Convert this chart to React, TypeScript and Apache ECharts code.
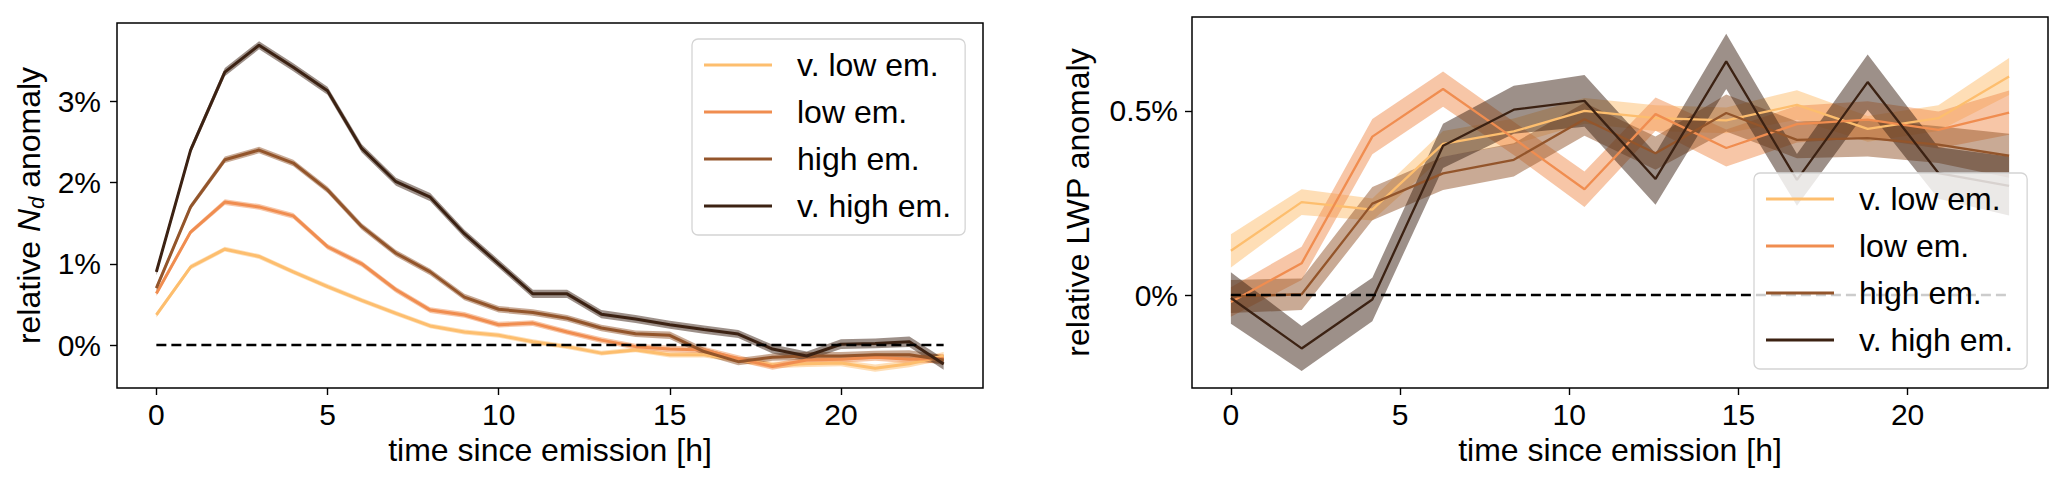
import React, { useEffect, useRef } from 'react';
import * as echarts from 'echarts';

// ---------- shared ----------
const seriesNames = ['v. low em.', 'low em.', 'high em.', 'v. high em.'];
const seriesColors = ['#FDBE6E', '#F08D50', '#93552B', '#3C2213'];
const xTicks = [0, 5, 10, 15, 20];

// ---------- left panel: relative N_d anomaly [%] ----------
const hoursLeft = [0, 1, 2, 3, 4, 5, 6, 7, 8, 9, 10, 11, 12, 13, 14, 15, 16, 17, 18, 19, 20, 21, 22, 23];
const ndVLow = [0.37, 0.96, 1.18, 1.09, 0.9, 0.72, 0.55, 0.39, 0.235, 0.16, 0.12, 0.04, -0.02, -0.1, -0.06, -0.12, -0.12, -0.18, -0.245, -0.23, -0.22, -0.285, -0.23, -0.135];
const ndLow = [0.635, 1.39, 1.76, 1.7, 1.59, 1.21, 1.0, 0.68, 0.43, 0.37, 0.25, 0.27, 0.16, 0.06, -0.02, -0.05, -0.06, -0.165, -0.265, -0.185, -0.175, -0.15, -0.175, -0.165];
const ndHigh = [0.7, 1.7, 2.28, 2.4, 2.24, 1.91, 1.46, 1.13, 0.9, 0.59, 0.44, 0.4, 0.33, 0.21, 0.14, 0.12, -0.08, -0.205, -0.15, -0.135, -0.135, -0.12, -0.12, -0.185];
const ndVHigh = [0.9, 2.4, 3.36, 3.69, 3.42, 3.13, 2.42, 2.01, 1.82, 1.37, 1.0, 0.63, 0.63, 0.38, 0.32, 0.25, 0.19, 0.135, -0.05, -0.135, 0.01, 0.02, 0.04, -0.235];
// half widths of the shaded confidence bands
const ndErrVLow = [0.03, 0.03, 0.03, 0.03, 0.03, 0.03, 0.03, 0.03, 0.03, 0.03, 0.03, 0.03, 0.03, 0.03, 0.03, 0.035, 0.035, 0.035, 0.04, 0.04, 0.04, 0.045, 0.045, 0.05];
const ndErrLow = [0.03, 0.03, 0.035, 0.035, 0.035, 0.035, 0.035, 0.035, 0.035, 0.035, 0.035, 0.035, 0.035, 0.035, 0.035, 0.04, 0.04, 0.04, 0.04, 0.045, 0.045, 0.045, 0.05, 0.055];
const ndErrHigh = [0.035, 0.035, 0.04, 0.04, 0.04, 0.04, 0.04, 0.04, 0.04, 0.04, 0.04, 0.04, 0.04, 0.04, 0.04, 0.045, 0.045, 0.045, 0.045, 0.05, 0.05, 0.05, 0.055, 0.06];
const ndErrVHigh = [0.04, 0.045, 0.05, 0.05, 0.05, 0.05, 0.05, 0.05, 0.05, 0.05, 0.05, 0.05, 0.05, 0.05, 0.05, 0.05, 0.05, 0.05, 0.055, 0.055, 0.06, 0.06, 0.065, 0.07];
const ndTicks = [0, 1, 2, 3];

// ---------- right panel: relative LWP anomaly [%] ----------
const hoursRight = [0, 2.09, 4.18, 6.27, 8.36, 10.45, 12.55, 14.64, 16.73, 18.82, 20.91, 23];
const lwpVLow = [0.12, 0.252, 0.232, 0.41, 0.444, 0.5, 0.48, 0.474, 0.516, 0.451, 0.48, 0.593];
const lwpLow = [-0.019, 0.086, 0.43, 0.559, 0.425, 0.287, 0.491, 0.399, 0.464, 0.476, 0.448, 0.495];
const lwpHigh = [-0.004, 0.002, 0.248, 0.33, 0.367, 0.477, 0.385, 0.494, 0.421, 0.426, 0.408, 0.378];
const lwpVHigh = [-0.008, -0.145, -0.012, 0.405, 0.503, 0.527, 0.315, 0.634, 0.3125, 0.578, 0.331, 0.296];
const lwpErrVLow = [0.045, 0.035, 0.03, 0.035, 0.035, 0.035, 0.035, 0.035, 0.04, 0.035, 0.035, 0.05];
const lwpErrLow = [0.04, 0.045, 0.048, 0.048, 0.045, 0.048, 0.045, 0.05, 0.05, 0.05, 0.05, 0.06];
const lwpErrHigh = [0.045, 0.043, 0.045, 0.045, 0.045, 0.045, 0.045, 0.05, 0.05, 0.05, 0.05, 0.06];
const lwpErrVHigh = [0.07, 0.061, 0.059, 0.06, 0.065, 0.07, 0.07, 0.075, 0.07, 0.075, 0.07, 0.08];
const lwpTicks = [0, 0.5];

const FONT = '"Liberation Sans", Arial, Helvetica, sans-serif';

function bandSeries(id: string, xs: number[], mean: number[], err: number[], color: string, axisIndex: number) {
  const lo = mean.map((m, i) => m - err[i]);
  const hi = mean.map((m, i) => m + err[i]);
  return {
    type: 'custom',
    name: id,
    xAxisIndex: axisIndex,
    yAxisIndex: axisIndex,
    silent: true,
    data: xs.map((x, i) => [x, lo[i], hi[i]]),
    encode: { x: 0, y: [1, 2] },
    itemStyle: { color },
    renderItem: (params: any, api: any) => {
      if (params.dataIndex !== 0) return null;
      const pts: number[][] = [];
      for (let i = 0; i < xs.length; i++) pts.push(api.coord([xs[i], hi[i]]));
      for (let i = xs.length - 1; i >= 0; i--) pts.push(api.coord([xs[i], lo[i]]));
      return { type: 'polygon', shape: { points: pts }, style: { fill: color, opacity: 0.5 } };
    },
  };
}

function lineSeries(name: string, xs: number[], ys: number[], color: string, axisIndex: number, width: number) {
  return {
    type: 'line',
    name,
    xAxisIndex: axisIndex,
    yAxisIndex: axisIndex,
    data: xs.map((x, i) => [x, ys[i]]),
    color,
    symbol: 'none',
    showSymbol: false,
    lineStyle: { color, width },
    silent: true,
  };
}

function zeroLine(axisIndex: number, xs: number[]) {
  return {
    type: 'line',
    name: 'zero' + axisIndex,
    xAxisIndex: axisIndex,
    yAxisIndex: axisIndex,
    data: [[xs[0], 0], [xs[xs.length - 1], 0]],
    symbol: 'none',
    lineStyle: { color: '#000', width: 2.6, type: [10, 5] },
    silent: true,
    z: 3,
  };
}

function xAxisCfg(gridIndex: number) {
  return {
    type: 'value',
    gridIndex,
    min: -1.15,
    max: 24.15,
    name: 'time since emission [h]',
    nameLocation: 'middle',
    nameGap: 46,
    nameTextStyle: { fontSize: 32, color: '#000', fontFamily: FONT },
    axisLine: { show: false, onZero: false },
    axisTick: { show: true, length: 7, lineStyle: { color: '#000', width: 1.4 }, customValues: xTicks },
    axisLabel: { show: true, fontSize: 30, color: '#000', fontFamily: FONT, margin: 11, customValues: xTicks },
    splitLine: { show: false },
  };
}

export default function App() {
  const ref = useRef<HTMLDivElement>(null);

  useEffect(() => {
    if (!ref.current) return;
    const chart = echarts.init(ref.current, undefined, { renderer: 'svg' });

    const leftMeans = [ndVLow, ndLow, ndHigh, ndVHigh];
    const leftErrs = [ndErrVLow, ndErrLow, ndErrHigh, ndErrVHigh];
    const rightMeans = [lwpVLow, lwpLow, lwpHigh, lwpVHigh];
    const rightErrs = [lwpErrVLow, lwpErrLow, lwpErrHigh, lwpErrVHigh];

    const series: any[] = [];
    for (let k = 0; k < 4; k++) {
      series.push(bandSeries('nd-band-' + k, hoursLeft, leftMeans[k], leftErrs[k], seriesColors[k], 0));
      series.push(lineSeries(seriesNames[k], hoursLeft, leftMeans[k], seriesColors[k], 0, 3));
    }
    series.push(zeroLine(0, hoursLeft));
    for (let k = 0; k < 4; k++) {
      series.push(bandSeries('lwp-band-' + k, hoursRight, rightMeans[k], rightErrs[k], seriesColors[k], 1));
      series.push(lineSeries(seriesNames[k], hoursRight, rightMeans[k], seriesColors[k], 1, 2.3));
    }
    series.push(zeroLine(1, hoursRight));

    const legendCommon = {
      orient: 'vertical',
      data: seriesNames,
      icon: 'rect',
      itemWidth: 68,
      itemHeight: 3,
      itemGap: 13,
      selectedMode: false,
      backgroundColor: 'rgba(255,255,255,0.8)',
      borderColor: '#d4d4d4',
      borderWidth: 1.3,
      borderRadius: 6,
      padding: [9, 14, 12, 12],
      textStyle: { fontSize: 32, color: '#000', fontFamily: FONT, lineHeight: 34, padding: [0, 0, 0, 20] },
    };

    const option: any = {
      animation: false,
      textStyle: { fontFamily: FONT },
      grid: [
        { left: 117, top: 23, width: 866, height: 365, show: true, borderColor: '#000', borderWidth: 1.5, backgroundColor: 'transparent' },
        { left: 1192, top: 17, width: 856, height: 371, show: true, borderColor: '#000', borderWidth: 1.5, backgroundColor: 'transparent' },
      ],
      xAxis: [xAxisCfg(0), xAxisCfg(1)],
      yAxis: [
        {
          type: 'value',
          gridIndex: 0,
          min: -0.529,
          max: 3.964,
          name: 'relative {it|N}{sub|d} anomaly',
          nameLocation: 'middle',
          nameGap: 70,
          nameTextStyle: {
            fontSize: 32,
            color: '#000',
            fontFamily: FONT,
            rich: {
              it: { fontSize: 32, fontStyle: 'italic', color: '#000', fontFamily: FONT },
              sub: { fontSize: 22, fontStyle: 'italic', color: '#000', fontFamily: FONT, padding: [14, 0, 0, 0] },
            },
          },
          axisLine: { show: false, onZero: false },
          axisTick: { show: true, length: 7, lineStyle: { color: '#000', width: 1.4 }, customValues: ndTicks },
          axisLabel: {
            show: true, fontSize: 30, color: '#000', fontFamily: FONT, margin: 16, customValues: ndTicks,
            formatter: (v: number) => v + '%',
          },
          splitLine: { show: false },
        },
        {
          type: 'value',
          gridIndex: 1,
          min: -0.2524,
          max: 0.7546,
          name: 'relative LWP anomaly',
          nameLocation: 'middle',
          nameGap: 98,
          nameTextStyle: { fontSize: 32, color: '#000', fontFamily: FONT },
          axisLine: { show: false, onZero: false },
          axisTick: { show: true, length: 7, lineStyle: { color: '#000', width: 1.4 }, customValues: lwpTicks },
          axisLabel: {
            show: true, fontSize: 30, color: '#000', fontFamily: FONT, margin: 14, customValues: lwpTicks,
            formatter: (v: number) => v + '%',
          },
          splitLine: { show: false },
        },
      ],
      legend: [
        { ...legendCommon, left: 692, top: 39 },
        { ...legendCommon, left: 1754, top: 173 },
      ],
      series,
    };

    chart.setOption(option);
    return () => chart.dispose();
  }, []);

  return (
    <div
      ref={ref}
      style={{ position: 'absolute', left: 0, top: 0, width: 2067, height: 487, background: '#fff' }}
    />
  );
}
